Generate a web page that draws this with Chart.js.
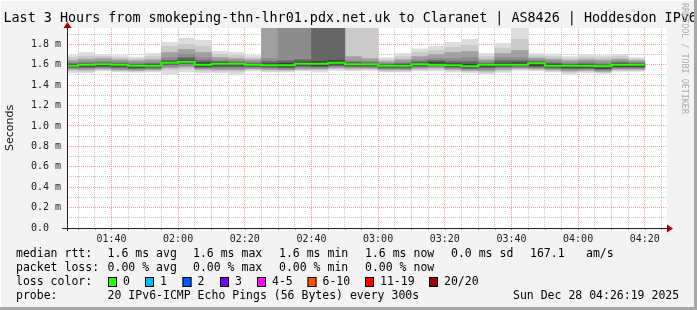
<!DOCTYPE html>
<html>
<head>
<meta charset="utf-8">
<script src="https://cdn.jsdelivr.net/npm/chart.js@4.4.1/dist/chart.umd.min.js"></script>
<style>
  html, body { margin: 0; padding: 0; background: #f3f3f3; }
  canvas { display: block; }
</style>
</head>
<body>
<canvas id="smoke" width="697" height="310"></canvas>
<script>
// 5 minute bins, start time of each one
const binStarts = ['01:25','01:30','01:35','01:40','01:45','01:50','01:55',
  '02:00','02:05','02:10','02:15','02:20','02:25','02:30','02:35','02:40','02:45','02:50','02:55',
  '03:00','03:05','03:10','03:15','03:20','03:25','03:30','03:35','03:40','03:45','03:50','03:55',
  '04:00','04:05','04:10','04:15'];
const binMinutes = 5;
const windowStart = '01:26:40';
const windowEnd = '04:26:40';

// median rtt (ms)
const median = [1.59,1.60,1.605,1.60,1.59,1.59,1.62,1.63,1.60,1.61,1.61,1.60,1.595,1.595,1.61,1.61,1.62,1.605,1.605,
  1.59,1.59,1.605,1.60,1.595,1.585,1.60,1.60,1.60,1.615,1.59,1.59,1.59,1.585,1.60,1.60];

// smoke bands, outer (1) to inner (6), upper and lower edges (ms)
const hi1 = [1.69,1.72,1.70,1.69,1.675,1.71,1.82,1.86,1.84,1.73,1.72,1.69,2.5,2.5,2.5,2.5,2.5,2.5,2.5,
  1.67,1.71,1.755,1.78,1.82,1.85,1.71,1.81,1.96,1.71,1.705,1.68,1.70,1.69,1.70,1.67];
const hi2 = [1.67,1.685,1.68,1.67,1.66,1.68,1.78,1.80,1.78,1.70,1.69,1.67,2.5,2.5,2.5,2.5,2.5,2.5,2.5,
  1.65,1.68,1.72,1.74,1.77,1.79,1.68,1.76,1.85,1.69,1.68,1.66,1.675,1.67,1.68,1.655];
const hi3 = [1.64,1.655,1.66,1.65,1.64,1.65,1.72,1.75,1.72,1.67,1.66,1.65,2.5,2.5,2.5,2.5,2.5,1.68,1.66,
  1.63,1.65,1.68,1.70,1.72,1.73,1.65,1.71,1.74,1.665,1.655,1.64,1.65,1.645,1.655,1.64];
const hi4 = [1.62,1.63,1.635,1.63,1.62,1.625,1.67,1.70,1.67,1.645,1.64,1.63,1.66,2.5,2.5,2.5,2.5,1.64,1.635,
  1.615,1.625,1.65,1.66,1.66,1.67,1.63,1.67,1.67,1.645,1.635,1.62,1.63,1.62,1.635,1.625];
const hi5 = [1.61,1.615,1.62,1.615,1.605,1.61,1.64,1.67,1.64,1.63,1.625,1.615,1.63,1.64,1.65,2.5,2.5,1.625,1.62,
  1.605,1.61,1.63,1.64,1.63,1.63,1.615,1.64,1.64,1.63,1.615,1.605,1.61,1.60,1.62,1.615];
const hi6 = [1.60,1.605,1.61,1.605,1.595,1.60,1.63,1.645,1.62,1.62,1.615,1.605,1.61,1.615,1.625,1.63,1.64,1.615,1.61,
  1.595,1.60,1.615,1.625,1.61,1.605,1.605,1.615,1.62,1.62,1.605,1.595,1.60,1.59,1.61,1.605];
const lo6 = [1.58,1.585,1.59,1.585,1.575,1.58,1.61,1.62,1.585,1.595,1.595,1.59,1.585,1.58,1.595,1.59,1.605,1.595,1.595,
  1.58,1.58,1.595,1.60,1.585,1.575,1.585,1.59,1.595,1.59,1.58,1.575,1.575,1.565,1.585,1.585];
const lo5 = [1.575,1.575,1.58,1.575,1.565,1.57,1.60,1.61,1.575,1.58,1.58,1.58,1.575,1.57,1.585,1.58,1.59,1.585,1.585,
  1.57,1.57,1.585,1.59,1.575,1.565,1.57,1.58,1.585,1.58,1.57,1.565,1.565,1.555,1.575,1.575];
const lo4 = [1.565,1.565,1.57,1.56,1.555,1.56,1.585,1.595,1.565,1.565,1.565,1.57,1.565,1.56,1.575,1.57,1.58,1.575,1.575,
  1.56,1.56,1.575,1.58,1.565,1.555,1.555,1.57,1.575,1.57,1.56,1.55,1.555,1.545,1.565,1.565];
const lo3 = [1.555,1.55,1.56,1.55,1.545,1.55,1.57,1.58,1.555,1.55,1.55,1.56,1.555,1.55,1.56,1.56,1.57,1.565,1.565,
  1.55,1.55,1.565,1.57,1.555,1.545,1.54,1.555,1.565,1.56,1.55,1.54,1.545,1.535,1.555,1.555];
const lo2 = [1.54,1.535,1.55,1.54,1.535,1.54,1.55,1.56,1.54,1.535,1.53,1.55,1.54,1.54,1.55,1.55,1.56,1.55,1.555,
  1.54,1.54,1.55,1.555,1.545,1.535,1.525,1.54,1.555,1.55,1.54,1.525,1.535,1.525,1.545,1.545];
const lo1 = [1.52,1.52,1.54,1.53,1.525,1.53,1.51,1.53,1.52,1.52,1.50,1.54,1.53,1.53,1.54,1.53,1.545,1.54,1.545,
  1.53,1.53,1.54,1.54,1.53,1.52,1.51,1.525,1.545,1.54,1.53,1.51,1.52,1.515,1.535,1.535];

const xTickLabels = ['01:40','02:00','02:20','02:40','03:00','03:20','03:40','04:00','04:20'];
const yTickLabels = ['0.0  ','0.2 m','0.4 m','0.6 m','0.8 m','1.0 m','1.2 m','1.4 m','1.6 m','1.8 m'];
const yTop = 1.96;

const lossLabels = ['0','1','2','3','4-5','6-10','11-19','20/20'];
const lossColors = ['#26ff00','#00b8ff','#0059ff','#7e00ff','#ff00ff','#ff5500','#ff0000','#a10000'];

const MONO = '"DejaVu Sans Mono", monospace';
const MAJOR = 'rgba(240,90,90,0.6)';
const MINOR = 'rgba(150,150,150,0.55)';

const toMin = s => {
  const [h, m, sec] = s.split(':').map(Number);
  return h * 60 + m + (sec || 0) / 60;
};
const fmtHM = v => {
  const t = Math.round(v);
  return String(Math.floor(t / 60)).padStart(2, '0') + ':' + String(t % 60).padStart(2, '0');
};

const layers = [
  { lo: lo1, hi: hi1, color: '#dddddd' },
  { lo: lo2, hi: hi2, color: '#cacaca' },
  { lo: lo3, hi: hi3, color: '#a0a0a0' },
  { lo: lo4, hi: hi4, color: '#8c8c8c' },
  { lo: lo5, hi: hi5, color: '#666666' },
  { lo: lo6, hi: hi6, color: '#3c3c3c' },
];

const datasets = layers.map((l, k) => ({
  type: 'bar',
  data: binStarts.map((t, i) => ({ x: toMin(t) + binMinutes / 2, y: [l.lo[i], l.hi[i]] })),
  backgroundColor: l.color,
  borderWidth: 0,
  barPercentage: 1,
  categoryPercentage: 1,
  grouped: false,
  clip: 0,
  order: layers.length - k,
}));

const medianPts = binStarts.map((t, i) => ({ x: toMin(t), y: median[i] }));
medianPts.push({ x: toMin(binStarts[binStarts.length - 1]) + binMinutes, y: median[median.length - 1] });
datasets.push({
  type: 'line',
  data: medianPts,
  borderColor: '#26ff00',
  borderWidth: 2,
  pointRadius: 0,
  stepped: 'before',
  fill: false,
  clip: 0,
  order: 0,
});

// canvas frame, axes, title and the rrd style legend
const smokeFrame = {
  id: 'smokeFrame',
  beforeDraw(chart) {
    const { ctx, chartArea: a } = chart;
    ctx.save();
    ctx.fillStyle = '#f3f3f3';
    ctx.fillRect(0, 0, chart.width, chart.height);
    ctx.fillStyle = '#ffffff';
    ctx.fillRect(a.left, a.top, a.right - a.left, a.bottom - a.top);
    ctx.restore();
  },
  afterDraw(chart) {
    const { ctx, chartArea: a, scales } = chart;
    ctx.save();

    // small ticks under the time axis
    scales.x.ticks.forEach(t => {
      const px = Math.round(scales.x.getPixelForValue(t.value)) + 0.5;
      ctx.strokeStyle = xTickLabels.includes(fmtHM(t.value)) ? '#e06060' : '#999';
      ctx.beginPath();
      ctx.moveTo(px, a.bottom);
      ctx.lineTo(px, a.bottom + 2);
      ctx.stroke();
    });

    // axes
    ctx.strokeStyle = '#222';
    ctx.lineWidth = 1;
    ctx.beginPath();
    ctx.moveTo(a.left - 5, a.bottom + 0.5);
    ctx.lineTo(a.right + 1, a.bottom + 0.5);
    ctx.moveTo(a.left + 0.5, a.bottom + 3);
    ctx.lineTo(a.left + 0.5, a.top - 1);
    ctx.stroke();
    ctx.fillStyle = '#a00000';
    ctx.beginPath();
    ctx.moveTo(a.right, a.bottom - 3.5);
    ctx.lineTo(a.right + 6, a.bottom + 0.5);
    ctx.lineTo(a.right, a.bottom + 4.5);
    ctx.fill();
    ctx.beginPath();
    ctx.moveTo(a.left - 3.5, a.top);
    ctx.lineTo(a.left + 0.5, a.top - 6);
    ctx.lineTo(a.left + 4.5, a.top);
    ctx.fill();

    // title
    ctx.fillStyle = '#000';
    ctx.font = '13.4px ' + MONO;
    ctx.textBaseline = 'alphabetic';
    ctx.textAlign = 'left';
    ctx.fillText('Last 3 Hours from smokeping-thn-lhr01.pdx.net.uk to Claranet | AS8426 | Hoddesdon IPv6', 3.5, 21.5);

    // vertical axis title
    ctx.save();
    ctx.translate(10.5, 128);
    ctx.rotate(-Math.PI / 2);
    ctx.font = '11px "DejaVu Sans", sans-serif';
    ctx.textAlign = 'center';
    ctx.textBaseline = 'middle';
    ctx.fillStyle = '#111';
    ctx.fillText('Seconds', 0, 0);
    ctx.restore();

    // watermark
    ctx.save();
    ctx.translate(684, 3);
    ctx.rotate(Math.PI / 2);
    ctx.font = '8.4px ' + MONO;
    ctx.textAlign = 'left';
    ctx.textBaseline = 'middle';
    ctx.fillStyle = '#ababab';
    ctx.fillText('RRDTOOL / TOBI OETIKER', 0, 0);
    ctx.restore();

    // legend block
    ctx.font = '11.5px ' + MONO;
    ctx.textBaseline = 'middle';
    ctx.fillStyle = '#000';
    const rows = [
      [254, [[16, 'median rtt:'], [107.6, '1.6 ms avg'], [193, '1.6 ms max'], [279, '1.6 ms min'],
             [365, '1.6 ms now'], [451, '0.0 ms sd'], [530, '167.1'], [586, 'am/s']]],
      [268, [[16, 'packet loss:'], [107.6, '0.00 % avg'], [193, '0.00 % max'], [279, '0.00 % min'],
             [365, '0.00 % now']]],
      [282, [[16, 'loss color:']]],
      [296, [[16, 'probe:'], [107.6, '20 IPv6-ICMP Echo Pings (56 Bytes) every 300s'],
             [513, 'Sun Dec 28 04:26:19 2025']]],
    ];
    rows.forEach(([y, items]) => items.forEach(([x, s]) => ctx.fillText(s, x, y)));

    const boxX = [108, 145, 182.5, 220, 257, 307.5, 365, 429];
    lossLabels.forEach((lbl, i) => {
      ctx.fillStyle = lossColors[i];
      ctx.fillRect(boxX[i], 277, 9, 10);
      ctx.strokeStyle = '#000';
      ctx.strokeRect(boxX[i] + 0.5, 277.5, 8, 9);
      ctx.fillStyle = '#000';
      ctx.fillText(lbl, boxX[i] + 15, 282);
    });

    // frame shading
    ctx.fillStyle = '#a8a8a8';
    ctx.fillRect(chart.width - 3, 0, 3, chart.height);
    ctx.fillRect(0, chart.height - 3, chart.width, 3);
    ctx.fillStyle = '#ffffff';
    ctx.fillRect(0, 0, chart.width - 3, 1);
    ctx.fillRect(0, 0, 1, chart.height - 3);
    ctx.restore();
  },
};

new Chart(document.getElementById('smoke'), {
  type: 'bar',
  data: { datasets },
  options: {
    responsive: false,
    animation: false,
    devicePixelRatio: 1,
    layout: { padding: { left: 0, top: 28, right: 30, bottom: 62 } },
    plugins: {
      legend: { display: false },
      tooltip: { enabled: false },
      title: { display: false },
    },
    scales: {
      x: {
        type: 'linear',
        min: toMin(windowStart),
        max: toMin(windowEnd),
        offset: false,
        z: 1,
        afterBuildTicks: s => {
          const t = [];
          for (let m = toMin(binStarts[1]); m < s.max; m += binMinutes) t.push({ value: m });
          s.ticks = t;
        },
        afterFit: s => { s.height = 20; },
        grid: {
          offset: false,
          drawTicks: false,
          borderDash: [1, 1],
          color: c => c.tick ? (xTickLabels.includes(fmtHM(c.tick.value)) ? MAJOR : MINOR) : 'transparent',
        },
        border: { display: false, dash: [1, 1] },
        ticks: {
          autoSkip: false,
          maxRotation: 0,
          padding: 5,
          color: '#222',
          font: { family: MONO, size: 10 },
          callback: v => (xTickLabels.includes(fmtHM(v)) ? fmtHM(v) : ''),
        },
      },
      y: {
        min: 0,
        max: yTop,
        z: 1,
        afterBuildTicks: s => {
          const t = [];
          for (let k = 0; k < 20; k++) t.push({ value: k / 10 });
          s.ticks = t;
        },
        afterFit: s => { s.width = 67; },
        grid: {
          drawTicks: false,
          borderDash: [1, 1],
          color: c => {
            if (!c.tick) return 'transparent';
            const k = Math.round(c.tick.value * 10);
            return k === 0 ? 'transparent' : (k % 2 === 0 ? MAJOR : MINOR);
          },
        },
        border: { display: false, dash: [1, 1] },
        ticks: {
          autoSkip: false,
          padding: 6,
          color: '#222',
          font: { family: MONO, size: 10 },
          callback: v => {
            const k = Math.round(v * 10);
            return k % 2 === 0 ? yTickLabels[k / 2] : '';
          },
        },
      },
    },
  },
  plugins: [smokeFrame],
});
</script>
</body>
</html>
